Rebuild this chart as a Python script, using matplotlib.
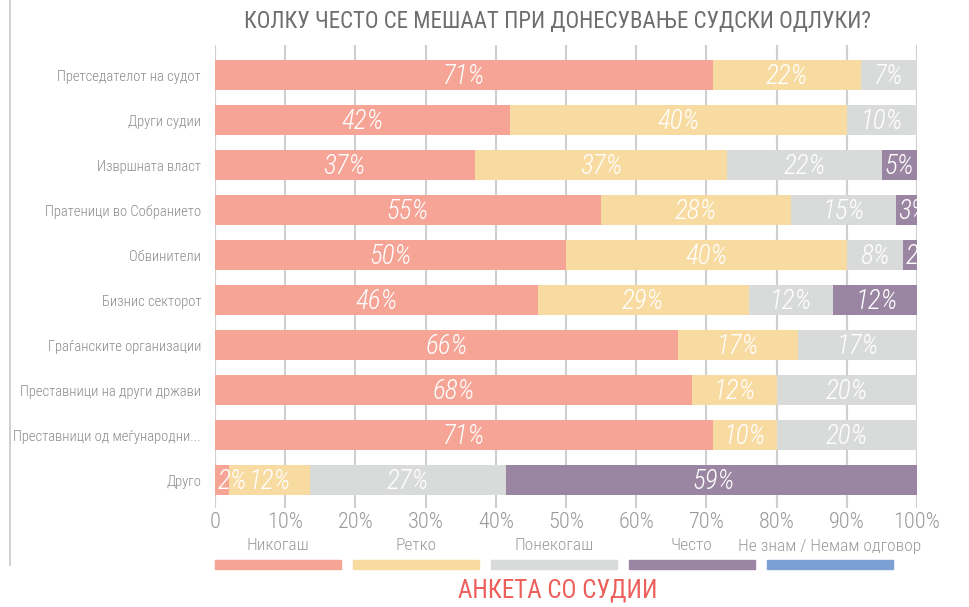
import numpy as np
import matplotlib
matplotlib.use('Agg')
import matplotlib.pyplot as plt
from matplotlib import font_manager
from matplotlib.patches import Rectangle

# pick a narrow font if one is installed
names = {f.name for f in font_manager.fontManager.ttflist}
fam = 'Roboto'
for cand in ['Roboto Condensed', 'Liberation Sans Narrow', 'Open Sans Condensed', 'Roboto']:
    if cand in names:
        fam = cand
        break
plt.rcParams['font.family'] = [fam, 'DejaVu Sans']
plt.rcParams['font.weight'] = 'light'

title = 'КОЛКУ ЧЕСТО СЕ МЕШААТ ПРИ ДОНЕСУВАЊЕ СУДСКИ ОДЛУКИ?'
subtitle = 'АНКЕТА СО СУДИИ'

categories = ['Претседателот на судот', 'Други судии', 'Извршната власт',
              'Пратеници во Собранието', 'Обвинители', 'Бизнис секторот',
              'Граѓанските организации', 'Преставници на други држави',
              'Преставници од меѓународни...', 'Друго']

series = ['Никогаш', 'Ретко', 'Понекогаш', 'Често', 'Не знам / Немам одговор']
colors = ['#f5a496', '#f8dba1', '#d9dbda', '#9a86a2', '#7c9fd4']

# bar widths (%)
nikogas   = [71, 42, 37, 55, 50, 46, 66, 68, 71, 2]
retko     = [21, 48, 36, 27, 40, 30, 17, 12, 9, 11.5]
ponekogas = [8, 10, 22, 15, 8, 12, 17, 20, 20, 28]
cesto     = [0, 0, 5, 3, 2.5, 12.5, 0, 0, 0, 59]
ne_znam   = [0, 0, 0, 0, 0, 0, 0, 0, 0, 0]

# printed labels
nikogas_lbl   = [71, 42, 37, 55, 50, 46, 66, 68, 71, 2]
retko_lbl     = [22, 40, 37, 28, 40, 29, 17, 12, 10, 12]
ponekogas_lbl = [7, 10, 22, 15, 8, 12, 17, 20, 20, 27]
cesto_lbl     = [0, 0, 5, 3, 2, 12, 0, 0, 0, 59]
ne_znam_lbl   = [0, 0, 0, 0, 0, 0, 0, 0, 0, 0]

data = [nikogas, retko, ponekogas, cesto, ne_znam]
lbls = [nikogas_lbl, retko_lbl, ponekogas_lbl, cesto_lbl, ne_znam_lbl]

W, H = 969, 607
fig = plt.figure(figsize=(W / 100, H / 100), dpi=100)
# axes box in pixels: x 215..917, y 45..508
ax = fig.add_axes([215 / W, 1 - 508 / H, (917 - 215) / W, (508 - 45) / H])

y = np.arange(len(categories))
left = np.zeros(len(categories))
for vals, col in zip(data, colors):
    ax.barh(y, vals, left=left, height=0.667, color=col, zorder=2)
    left += np.array(vals)

left = np.zeros(len(categories))
for vals, lab in zip(data, lbls):
    for i, (v, l) in enumerate(zip(vals, lab)):
        if v > 0:
            # very thin segments: start the label at the segment edge
            xc = left[i] + v / 2 if v >= 4 else left[i] + 0.3
            ha = 'center' if v >= 4 else 'left'
            ax.text(xc, i + 0.04, f'{l}%', ha=ha, va='center',
                    color='white', fontsize=19.5, style='italic', zorder=5,
                    clip_on=True)
    left += np.array(vals)

ax.set_xlim(0, 100)
ax.set_ylim(9.62, -0.667)
ax.set_xticks(np.arange(0, 101, 10))
ax.set_xticklabels(['0'] + [f'{t}%' for t in range(10, 101, 10)])
ax.set_yticks(y)
ax.set_yticklabels(categories)
ax.tick_params(axis='x', length=0, labelsize=16, labelcolor='#9a9a9a', pad=3)
ax.tick_params(axis='y', length=0, labelsize=10.5, labelcolor='#8a8a8a', pad=10)
ax.grid(axis='x', color='#cfcfcf', linewidth=1.5, zorder=0)
ax.set_axisbelow(True)
for s in ax.spines.values():
    s.set_visible(False)

fig.text(558 / W, 1 - 22 / H, title, ha='center', va='center',
         fontsize=16.5, color='#6e6e6e', fontweight='normal')
fig.text(558 / W, 1 - 591 / H, subtitle, ha='center', va='center',
         fontsize=18, color='#ec5f5a', fontweight='normal')

# legend: label over a flat colour bar
x0 = 215
for k, (name, col) in enumerate(zip(series, colors)):
    xs = x0 + k * 138
    fig.add_artist(Rectangle((xs / W, 1 - 569 / H), 126 / W, 9 / H,
                             transform=fig.transFigure, color=col))
    fig.text((xs + 63) / W, 1 - 546 / H, name, ha='center', va='center',
             fontsize=12.5, color='#9a9a9a')

# thin grey frame line on the left
fig.add_artist(plt.Line2D([10 / W, 10 / W], [1 - 565 / H, 1], transform=fig.transFigure,
                          color='#c8c8c8', linewidth=1.2))

fig.savefig('out.png', dpi=100, facecolor='white')
